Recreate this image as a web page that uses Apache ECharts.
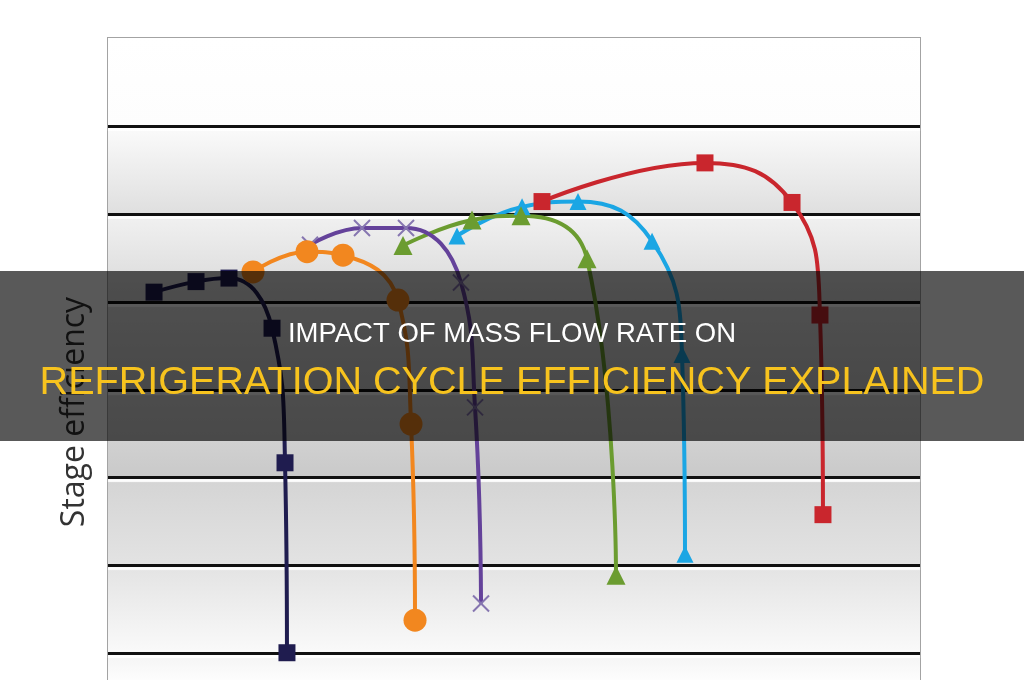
<!DOCTYPE html>
<html>
<head>
<meta charset="utf-8">
<script src="https://cdn.jsdelivr.net/npm/echarts@6/dist/echarts.min.js"></script>
<style>
html,body{margin:0;padding:0;background:#fff;}
#chart{width:1024px;height:680px;}
</style>
</head>
<body>
<div id="chart"></div>
<script>
// Mass flow (arbitrary units, 0-100) and stage efficiency (arbitrary units) per speed line
const navyX   = [5.67, 10.84, 14.90, 20.20, 21.80, 22.04];
const navyY   = [4.11, 4.23, 4.27, 3.70, 2.17, 0.01];
const orangeX = [17.86, 24.51, 28.94, 35.71, 37.32, 37.81];
const orangeY = [4.34, 4.57, 4.53, 4.02, 2.61, 0.38];
const purpleX = [24.88, 31.28, 36.70, 43.47, 45.20, 45.94];
const purpleY = [4.65, 4.84, 4.84, 4.22, 2.80, 0.57];
const greenX  = [36.33, 44.83, 50.86, 58.99, 62.56];
const greenY  = [4.64, 4.93, 4.98, 4.49, 0.89];
const cyanX   = [42.98, 50.99, 57.88, 67.00, 70.69, 71.06];
const cyanY   = [4.75, 5.08, 5.14, 4.69, 3.40, 1.13];
const redX    = [53.45, 73.52, 84.24, 87.68, 88.05];
const redY    = [5.14, 5.58, 5.13, 3.85, 1.58];

// gridline values and band edges of the efficiency axis
const gridValues = [0, 1, 2, 3, 4, 5, 6];
const bandEdges  = [-0.3, 0, 1, 2, 3, 4, 5, 6, 7];

const yAxisName = 'Stage efficiency';
const titleLine1 = 'IMPACT OF MASS FLOW RATE ON';
const titleLine2 = 'REFRIGERATION CYCLE EFFICIENCY EXPLAINED';

function pairs(xs, ys){ return xs.map((x,i)=>[x, ys[i]]); }
function grad(a,b){ return new echarts.graphic.LinearGradient(0,0,0,1,[{offset:0,color:a},{offset:1,color:b}]); }

// band shading, bottom band first (top colour, bottom colour)
const bandShades = [
  ['#f4f4f4','#fdfdfd'],
  ['#e3e3e3','#fafafa'],
  ['#d4d4d4','#e3e3e3'],
  ['#dcdcdc','#c9c9c9'],
  ['#e2e2e2','#cfcfcf'],
  ['#f1f1f1','#d8d8d8'],
  ['#fbfbfb','#dfdfdf'],
  ['#ffffff','#fdfdfd']
];

const chart = echarts.init(document.getElementById('chart'), null, {renderer:'canvas'});

function lineSeries(name, data, color, symbol, size, extra){
  return Object.assign({
    name: name,
    type: 'line',
    data: data,
    smooth: 0.45,
    symbol: symbol,
    symbolSize: size,
    z: 3,
    lineStyle: {color: color, width: 4},
    itemStyle: {color: color},
    emphasis: {disabled: true},
    animation: false
  }, extra || {});
}

const bandData = bandShades.map((c, i) => [
  {yAxis: bandEdges[i], itemStyle: {color: grad(c[0], c[1])}},
  {yAxis: bandEdges[i + 1]}
]);

const option = {
  animation: false,
  backgroundColor: '#ffffff',
  grid: {
    left: 108, top: 38, right: 104, bottom: 0,
    show: true, borderColor: '#a3a3a3', borderWidth: 2, backgroundColor: '#ffffff'
  },
  xAxis: {type: 'value', min: 0, max: 100, show: false},
  yAxis: {
    type: 'value', min: -0.3, max: 7,
    axisLabel: {show: false}, axisTick: {show: false}, axisLine: {show: false},
    splitLine: {show: false}
  },
  series: [
    {type: 'line', data: [], silent: true, z: 0,
      markArea: {z: 0, silent: true, data: bandData, label: {show: false}}},
    {type: 'line', data: [], silent: true, z: 1,
      markLine: {z: 1, silent: true, symbol: ['none','none'], label: {show: false},
        lineStyle: {color: '#111', width: 3, type: 'solid',
          shadowColor: 'rgba(255,255,255,0.95)', shadowOffsetY: 3, shadowBlur: 1},
        data: gridValues.map(v => ({yAxis: v}))}},
    lineSeries('red', pairs(redX, redY), '#c9262d', 'rect', 17),
    lineSeries('cyan', pairs(cyanX, cyanY), '#1ba6e4', 'triangle', 17),
    lineSeries('green', pairs(greenX, greenY), '#6b9c30', 'triangle', 19),
    lineSeries('purple', pairs(purpleX, purpleY), '#64429a', 'path://M0,0L10,10M10,0L0,10', 16,
      {itemStyle: {color: '#8676b0', borderColor: '#8676b0', borderWidth: 2}}),
    lineSeries('orange', pairs(orangeX, orangeY), '#f2871f', 'circle', 23),
    lineSeries('navy', pairs(navyX, navyY), '#1f1c4f', 'rect', 17)
  ],
  graphic: [
    {type: 'rect', z: 100, shape: {x: 0, y: 271, width: 1024, height: 170},
      style: {fill: 'rgba(0,0,0,0.65)'}, silent: true},
    {type: 'text', z: 101, x: 512, y: 334,
      style: {text: titleLine1, fill: '#ffffff', font: '27.5px "Liberation Sans", Arial, sans-serif',
        textAlign: 'center', textVerticalAlign: 'middle'}},
    {type: 'text', z: 101, x: 512, y: 383,
      style: {text: titleLine2, fill: '#f7c31e', font: '39.6px "Liberation Sans", Arial, sans-serif',
        textAlign: 'center', textVerticalAlign: 'middle'}},
    {type: 'text', z: 50, x: 75, y: 412, rotation: Math.PI/2,
      style: {text: yAxisName, fill: '#333333', font: '32px "Open Sans", sans-serif',
        textAlign: 'center', textVerticalAlign: 'middle'}}
  ]
};
chart.setOption(option);
</script>
</body>
</html>
